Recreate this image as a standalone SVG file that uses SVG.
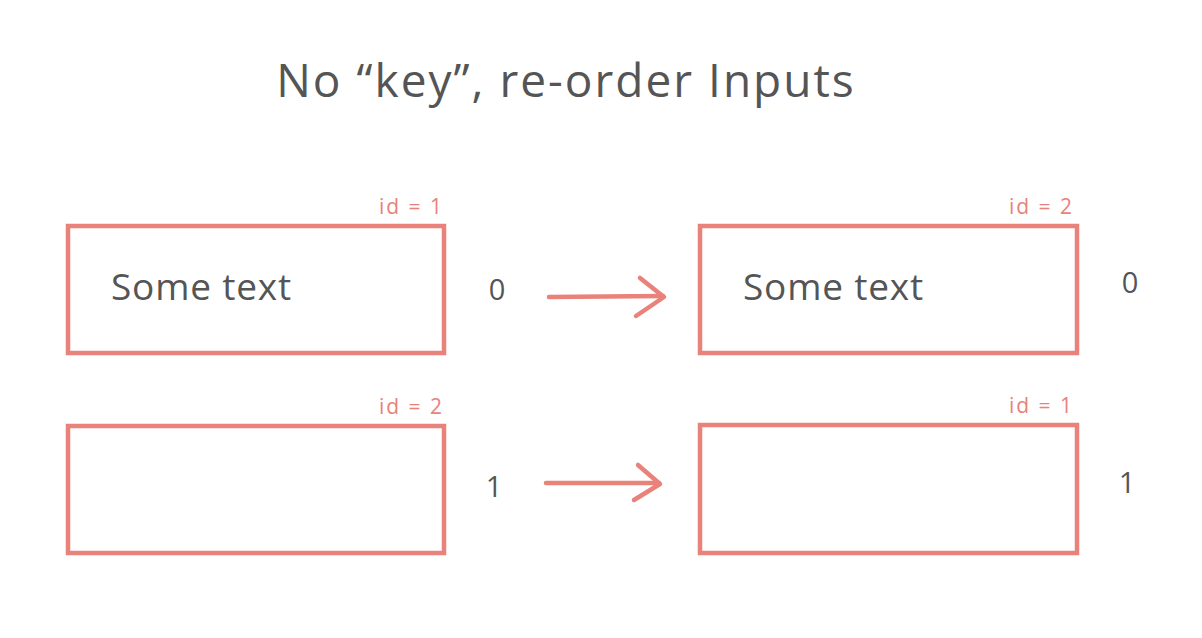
<svg xmlns="http://www.w3.org/2000/svg" width="1202" height="638" viewBox="0 0 1202 638">
<style>
.box{fill:none;stroke:#e8827a;stroke-width:4.5;stroke-linejoin:miter}
.conn{fill:none;stroke:#e8827a;stroke-width:4.5;stroke-linecap:round;stroke-linejoin:round}
.t{font-family:"Open Sans","Liberation Sans",sans-serif;fill:#555}
.title{font-size:46px;letter-spacing:2px}
.body{font-size:37px;letter-spacing:0.8px}
.num{font-size:29px}
.id{font-family:"Open Sans","Liberation Sans",sans-serif;fill:#e8827a;font-size:21px;letter-spacing:2px}
</style>
<rect width="1202" height="638" fill="#fff"/>
<text class="t title" x="566" y="97" text-anchor="middle">No “key”, re-order Inputs</text>
<g id="node-left-0">
<rect class="box" x="68" y="226" width="376" height="127"/>
<text class="id" x="444" y="214" text-anchor="end">id = 1</text>
<text class="t body" x="111" y="300">Some text</text>
<text class="t num" x="497" y="300" text-anchor="middle">0</text>
</g>
<g id="node-left-1">
<rect class="box" x="68" y="426" width="376" height="127"/>
<text class="id" x="444" y="414" text-anchor="end">id = 2</text>
<text class="t num" x="494" y="497" text-anchor="middle">1</text>
</g>
<g id="node-right-0">
<rect class="box" x="700" y="226" width="377" height="127"/>
<text class="id" x="1074" y="214" text-anchor="end">id = 2</text>
<text class="t body" x="743" y="300">Some text</text>
<text class="t num" x="1130" y="293" text-anchor="middle">0</text>
</g>
<g id="node-right-1">
<rect class="box" x="700" y="425" width="377" height="128"/>
<text class="id" x="1074" y="413" text-anchor="end">id = 1</text>
<text class="t num" x="1127" y="493" text-anchor="middle">1</text>
</g>
<g id="connectors">
<path class="conn" d="M549 297 L663 296"/>
<path class="conn" d="M640 278 L664 297 L636 316"/>
<path class="conn" d="M546 483 L659 483"/>
<path class="conn" d="M638 465 L660 484 L634 500"/>
</g>
</svg>
